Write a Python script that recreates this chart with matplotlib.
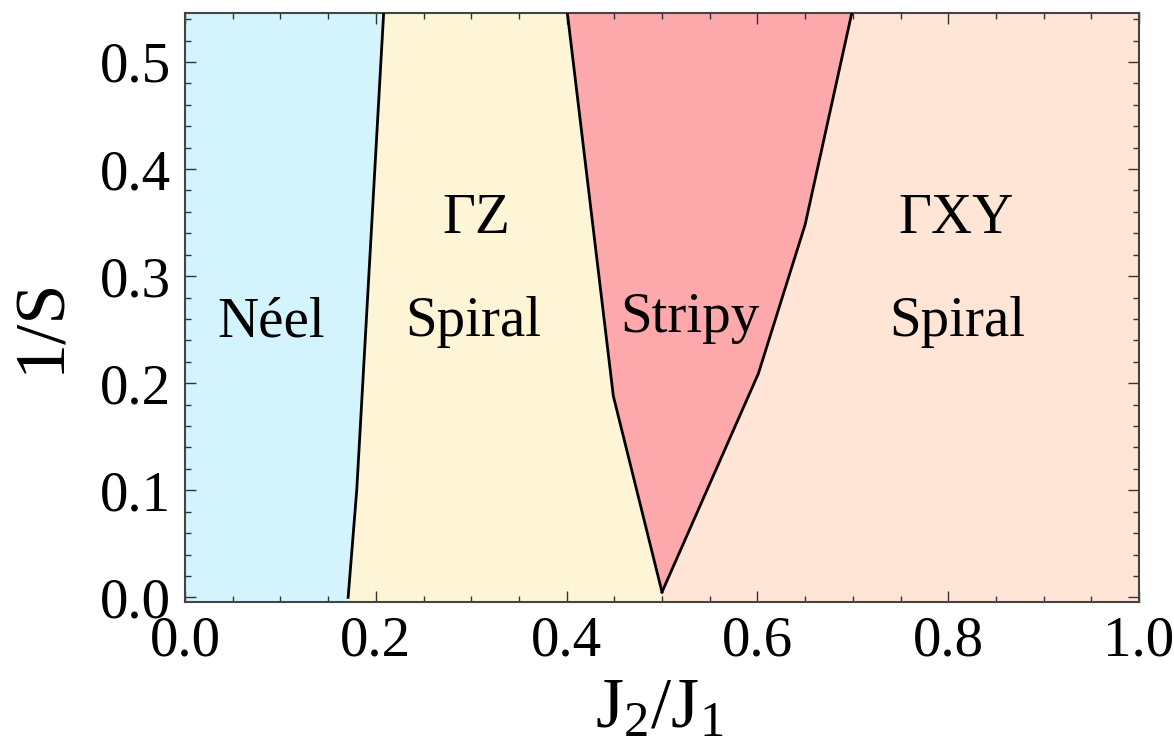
import matplotlib
matplotlib.use("Agg")
import matplotlib.pyplot as plt
from matplotlib.ticker import MultipleLocator

plt.rcParams['font.family'] = ['Liberation Serif', 'DejaVu Serif']
plt.rcParams['mathtext.fontset'] = 'custom'
plt.rcParams['mathtext.rm'] = 'Liberation Serif'
plt.rcParams['mathtext.it'] = 'Liberation Serif:italic'

# Phase boundaries in the (J2/J1, 1/S) plane
neel_gz_x = [0.171, 0.180, 0.2085]
neel_gz_y = [0.0, 0.10, 0.55]

gz_stripy_x = [0.500, 0.449, 0.4002]
gz_stripy_y = [0.005, 0.188, 0.55]

stripy_gxy_x = [0.500, 0.601, 0.650, 0.700]
stripy_gxy_y = [0.005, 0.209, 0.348, 0.55]

phase_colors = ["#d4f4fd", "#fef5d7", "#fda8ab", "#fee5d6"]

# Phase labels (text, x, baseline y)
phase_labels = [
    ("Néel", 0.090, 0.244),
    ("ΓZ", 0.305, 0.340),
    ("Spiral", 0.302, 0.244),
    ("Stripy", 0.529, 0.248),
    ("ΓXY", 0.808, 0.340),
    ("Spiral", 0.809, 0.244),
]

x_min, x_max = 0.0, 1.0
y_min, y_max = -0.004, 0.546
y_top = 0.55

fig = plt.figure(figsize=(11.74, 7.47), dpi=100)
ax = fig.add_axes([185 / 1174, 1 - 601.7 / 747, (1139 - 185) / 1174, (601.7 - 12.7) / 747])

# Néel region: left edge to first boundary
neel_poly_x = [x_min, neel_gz_x[0]] + neel_gz_x + [x_min]
neel_poly_y = [y_min, y_min] + neel_gz_y + [y_top]
ax.fill(neel_poly_x, neel_poly_y, color=phase_colors[0], lw=0)

# ΓZ spiral region between first boundary and stripy left edge
gz_x = [neel_gz_x[0], gz_stripy_x[0]] + gz_stripy_x + neel_gz_x[::-1]
gz_y = [y_min, y_min] + gz_stripy_y + neel_gz_y[::-1]
ax.fill(gz_x, gz_y, color=phase_colors[1], lw=0)

# Stripy wedge
st_x = gz_stripy_x[::-1] + stripy_gxy_x
st_y = gz_stripy_y[::-1] + stripy_gxy_y
ax.fill(st_x, st_y, color=phase_colors[2], lw=0)

# ΓXY spiral region right of the stripy wedge
gxy_x = [stripy_gxy_x[0], x_max, x_max] + stripy_gxy_x[::-1]
gxy_y = [y_min, y_min, y_top] + stripy_gxy_y[::-1]
ax.fill(gxy_x, gxy_y, color=phase_colors[3], lw=0)

for bx, by in [(neel_gz_x, neel_gz_y), (gz_stripy_x, gz_stripy_y), (stripy_gxy_x, stripy_gxy_y)]:
    ax.plot(bx, by, color='black', lw=2.0, solid_joinstyle='round', zorder=3)

for name, lx, ly in phase_labels:
    ax.text(lx, ly, name, ha='center', va='baseline', fontsize=41, zorder=4)

ax.set_xlim(x_min, x_max)
ax.set_ylim(y_min, y_max)
ax.xaxis.set_major_locator(MultipleLocator(0.2))
ax.xaxis.set_minor_locator(MultipleLocator(0.05))
ax.yaxis.set_major_locator(MultipleLocator(0.1))
ax.yaxis.set_minor_locator(MultipleLocator(0.02))
ax.tick_params(which='both', direction='in', top=True, right=True, color='#333333', width=1.0)
ax.tick_params(which='major', length=8, labelsize=41, pad=10)
ax.tick_params(which='minor', length=4.5)
for s in ax.spines.values():
    s.set_color('#444444')
    s.set_linewidth(1.5)

ax.set_xlabel(r'J$_2$/J$_1$', fontsize=52)
ax.set_ylabel('1/S', fontsize=52)
ax.xaxis.set_label_coords(0.497, -0.128)
ax.yaxis.set_label_coords(-0.116, 0.47)

fig.savefig('out.png', dpi=100)
